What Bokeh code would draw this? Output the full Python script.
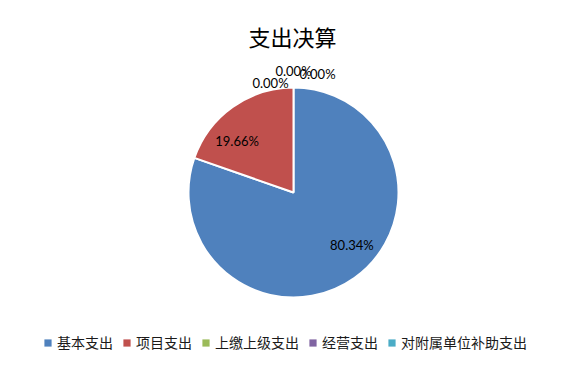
import numpy as np
from bokeh.plotting import figure
from bokeh.models import ColumnDataSource, Range1d, Legend, LegendItem
from bokeh.core.properties import value
from bokeh.embed import file_html
from bokeh.resources import INLINE

# ---- data ----
title_text = "支出决算"
categories = ["基本支出", "项目支出", "上缴上级支出", "经营支出", "对附属单位补助支出"]
values = [80.34, 19.66, 0.0, 0.0, 0.0]
colors = ["#4F81BD", "#C0504D", "#9BBB59", "#8064A2", "#4BACC6"]

# ---- layout / style ----
W, H = 584, 371
CX, CY, R = 293, 179, 105
CJK = "Noto Sans CJK SC"
# label nudges (screen px, y up) relative to the computed anchor
label_nudge = [(14, 10), (-12, -11), (-23, -6), (0, 6), (24, 3)]

total = float(sum(values))
frac = np.array(values) / total
cum_end = np.cumsum(frac)
cum_start = cum_end - frac
start_angle = np.pi / 2 - 2 * np.pi * cum_start
end_angle = np.pi / 2 - 2 * np.pi * cum_end

p = figure(width=W, height=H, x_range=Range1d(0, W), y_range=Range1d(0, H),
           output_backend="svg", toolbar_location=None, min_border=0,
           outline_line_color=None, background_fill_color="white",
           border_fill_color="white")
p.xaxis.visible = False
p.yaxis.visible = False
p.grid.visible = False

nz = frac > 0
pie_src = ColumnDataSource(dict(
    x=[CX] * int(nz.sum()), y=[CY] * int(nz.sum()),
    start=list(start_angle[nz]), end=list(end_angle[nz]),
    color=[c for c, k in zip(colors, nz) if k]))
p.wedge(x="x", y="y", radius=R, start_angle="start", end_angle="end",
        direction="clock", fill_color="color", line_color="white",
        line_width=2, source=pie_src)

# legend-only renderer (invisible wedges)
leg_src = ColumnDataSource(dict(x=[CX] * len(categories), y=[CY] * len(categories),
                                color=colors, name=categories))
leg_r = p.wedge(x="x", y="y", radius=0, start_angle=0, end_angle=0.0001,
                fill_color="color", line_color=None, source=leg_src)
items = [LegendItem(label=categories[i], renderers=[leg_r], index=i)
         for i in range(len(categories))]
legend = Legend(items=items, orientation="horizontal", location=(43, 19),
                label_text_font=CJK, label_text_font_size="14px",
                label_text_color="#1a1a1a", glyph_width=9, glyph_height=9,
                label_standoff=5, spacing=9, padding=0, margin=0,
                label_height=14, border_line_alpha=0, background_fill_alpha=0)
p.add_layout(legend)

# percentage labels
lx, ly, lt = [], [], []
for i, f in enumerate(frac):
    mid = (start_angle[i] + end_angle[i]) / 2
    rr = 0.73 * R if f > 0 else 1.1 * R
    dx, dy = label_nudge[i]
    lx.append(CX + rr * np.cos(mid) + dx)
    ly.append(CY + rr * np.sin(mid) + dy)
    lt.append(f"{values[i] / total * 100:.2f}%")
p.text(x=lx, y=ly, text=lt, text_align="center", text_baseline="middle",
       text_font=value("Lato"), text_font_size="13px", text_color="#000000")

# title
p.text(x=[W / 2], y=[H - 35], text=[title_text], text_align="center",
       text_baseline="middle", text_font=value(CJK), text_font_size="22px",
       text_color="#000000")

open("out.html", "w").write(file_html(p, INLINE))
